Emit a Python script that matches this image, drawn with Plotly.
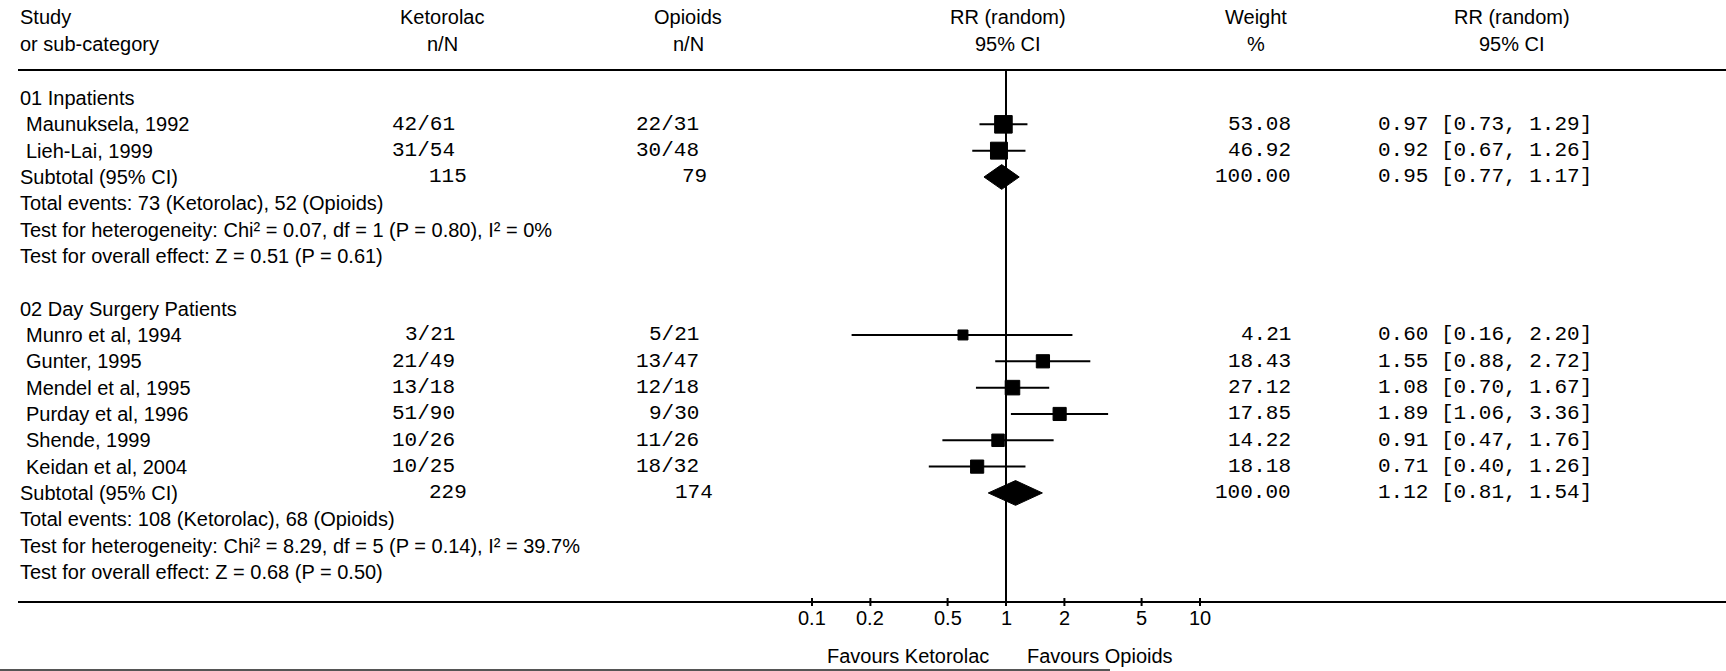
import math
import plotly.graph_objects as go

# ---- data -------------------------------------------------------------
studies = ["Maunuksela, 1992", "Lieh-Lai, 1999", "Munro et al, 1994", "Gunter, 1995",
           "Mendel et al, 1995", "Purday et al, 1996", "Shende, 1999", "Keidan et al, 2004"]
study_group = [0, 0, 1, 1, 1, 1, 1, 1]
ket_events = [42, 31, 3, 21, 13, 51, 10, 10]
ket_total = [61, 54, 21, 49, 18, 90, 26, 25]
opi_events = [22, 30, 5, 13, 12, 9, 11, 18]
opi_total = [31, 48, 21, 47, 18, 30, 26, 32]
weight = [53.08, 46.92, 4.21, 18.43, 27.12, 17.85, 14.22, 18.18]
rr = [0.97, 0.92, 0.60, 1.55, 1.08, 1.89, 0.91, 0.71]
rr_lo = [0.73, 0.67, 0.16, 0.88, 0.70, 1.06, 0.47, 0.40]
rr_hi = [1.29, 1.26, 2.20, 2.72, 1.67, 3.36, 1.76, 1.26]

groups = ["01 Inpatients", "02 Day Surgery Patients"]
sub_ket_total = [115, 229]
sub_opi_total = [79, 174]
sub_weight = [100.00, 100.00]
sub_rr = [0.95, 1.12]
sub_lo = [0.77, 0.81]
sub_hi = [1.17, 1.54]
sub_ket_events = [73, 108]
sub_opi_events = [52, 68]
het_chi2 = ["0.07", "8.29"]
het_df = [1, 5]
het_p = ["0.80", "0.14"]
het_i2 = ["0%", "39.7%"]
eff_z = ["0.51", "0.68"]
eff_p = ["0.61", "0.50"]

tick_vals = [0.1, 0.2, 0.5, 1, 2, 5, 10]
tick_text = ["0.1", "0.2", "0.5", "1", "2", "5", "10"]

# ---- geometry ---------------------------------------------------------
W, H = 1726, 671
ROW0, ROWH = 98.0, 26.33          # pixel centre of first row, row pitch
X1, DEC = 1006.0, 194.0           # pixel of RR = 1, pixels per decade
LINE_X0 = 18.0
AXIS_Y = 602.0


def px(x):
    return x / W


def row_of(ypx):
    return (ypx - ROW0) / ROWH


SANS = "Liberation Sans, Arial, sans-serif"
MONO = "Liberation Mono, Courier New, monospace"
FS = 20
FM = 21

# row assignment
study_row = [0] * len(studies)
group_rows = []
r = 0
for g in range(len(groups)):
    info = {"head": r}
    r += 1
    for i, sg in enumerate(study_group):
        if sg == g:
            study_row[i] = r
            r += 1
    info["sub"] = r
    info["tot"] = r + 1
    info["het"] = r + 2
    info["eff"] = r + 3
    r += 5
    group_rows.append(info)

fig = go.Figure()

# confidence interval lines
for i in range(len(studies)):
    fig.add_trace(go.Scatter(x=[rr_lo[i], rr_hi[i]], y=[study_row[i]] * 2, mode="lines",
                             line=dict(color="black", width=2), hoverinfo="skip",
                             showlegend=False))

# study squares sized by weight
fig.add_trace(go.Scatter(x=rr, y=study_row, mode="markers", opacity=1,
                         marker=dict(symbol="square", color="#000000", opacity=1,
                                     size=[7 + 1.45 * w ** 0.5 for w in weight],
                                     line=dict(width=1, color="#000000")),
                         hoverinfo="skip", showlegend=False))

# pooled diamonds
for g, info in enumerate(group_rows):
    y0 = info["sub"]
    fig.add_trace(go.Scatter(x=[sub_lo[g], sub_rr[g], sub_hi[g], sub_rr[g], sub_lo[g]],
                             y=[y0, y0 - 0.47, y0, y0 + 0.47, y0], mode="lines",
                             fill="toself", fillcolor="black",
                             line=dict(color="black", width=1), hoverinfo="skip",
                             showlegend=False))

ann = []


def txt(x, y, s, anchor="left", font=SANS, size=FS, xref="paper"):
    ann.append(dict(x=px(x) if xref == "paper" else x, y=y, xref=xref, yref="y", text=s,
                    showarrow=False, xanchor=anchor, yanchor="middle",
                    font=dict(family=font, size=size, color="black")))


# column anchors (pixels)
KET_R, KET_SUB, KET_HEAD = 457, 448, 442
OPI_R, OPI_SUB, OPI_HEAD = 701, 694, 688
RR_HEAD = 1008
WT_R, WT_HEAD = 1293, 1256
CI_L, CI_HEAD = 1376, 1512

# header
hy1, hy2 = row_of(17), row_of(44)
txt(LINE_X0, hy1, "Study")
txt(LINE_X0, hy2, "or sub-category")
txt(KET_HEAD, hy1, "Ketorolac", "center")
txt(KET_HEAD, hy2, "n/N", "center")
txt(OPI_HEAD, hy1, "Opioids", "center")
txt(OPI_HEAD, hy2, "n/N", "center")
txt(RR_HEAD, hy1, "RR (random)", "center")
txt(RR_HEAD, hy2, "95% CI", "center")
txt(WT_HEAD, hy1, "Weight", "center")
txt(WT_HEAD, hy2, "%", "center")
txt(CI_HEAD, hy1, "RR (random)", "center")
txt(CI_HEAD, hy2, "95% CI", "center")

# study rows
for i, name in enumerate(studies):
    y = study_row[i]
    txt(24, y, name)
    txt(KET_R, y, f"{ket_events[i]}/{ket_total[i]}", "right", MONO, FM)
    txt(OPI_R, y, f"{opi_events[i]}/{opi_total[i]}", "right", MONO, FM)
    txt(WT_R, y, f"{weight[i]:.2f}", "right", MONO, FM)
    txt(CI_L, y, f"{rr[i]:.2f} [{rr_lo[i]:.2f}, {rr_hi[i]:.2f}]", "left", MONO, FM)

# subgroup rows
for g, info in enumerate(group_rows):
    txt(LINE_X0, info["head"], groups[g])
    txt(LINE_X0, info["sub"], "Subtotal (95% CI)")
    txt(KET_SUB, info["sub"], f"{sub_ket_total[g]}", "center", MONO, FM)
    txt(OPI_SUB, info["sub"], f"{sub_opi_total[g]}", "center", MONO, FM)
    txt(WT_R, info["sub"], f"{sub_weight[g]:.2f}", "right", MONO, FM)
    txt(CI_L, info["sub"], f"{sub_rr[g]:.2f} [{sub_lo[g]:.2f}, {sub_hi[g]:.2f}]", "left", MONO, FM)
    txt(LINE_X0, info["tot"],
        f"Total events: {sub_ket_events[g]} (Ketorolac), {sub_opi_events[g]} (Opioids)")
    txt(LINE_X0, info["het"],
        f"Test for heterogeneity: Chi\u00b2 = {het_chi2[g]}, df = {het_df[g]} (P = {het_p[g]}), I\u00b2 = {het_i2[g]}")
    txt(LINE_X0, info["eff"], f"Test for overall effect: Z = {eff_z[g]} (P = {eff_p[g]})")

# axis tick labels placed on the log scale (annotation x is log10 on log axes)
for v, t in zip(tick_vals, tick_text):
    txt(math.log10(v), row_of(618), t, "center", xref="x")

# direction labels
txt(991, row_of(656), "Favours Ketorolac", "right")
txt(1025, row_of(656), "Favours Opioids", "left")

shapes = [
    # header rule
    dict(type="line", xref="paper", yref="y", x0=px(LINE_X0), x1=1, y0=row_of(70), y1=row_of(70),
         line=dict(color="black", width=2)),
    # axis rule
    dict(type="line", xref="paper", yref="y", x0=px(LINE_X0), x1=1, y0=row_of(AXIS_Y),
         y1=row_of(AXIS_Y), line=dict(color="black", width=2)),
    # line of no effect
    dict(type="line", xref="x", yref="y", x0=1, x1=1, y0=row_of(70), y1=row_of(AXIS_Y + 3),
         line=dict(color="black", width=2)),
    # bottom rule
    dict(type="line", xref="paper", yref="paper", x0=0, x1=px(1110), y0=1 - 670 / H, y1=1 - 670 / H,
         line=dict(color="#555555", width=2)),
]
# tick marks crossing the axis rule
for v in tick_vals:
    shapes.append(dict(type="line", xref="x", yref="y", x0=v, x1=v,
                       y0=row_of(AXIS_Y - 4), y1=row_of(AXIS_Y + 4),
                       line=dict(color="black", width=2)))

left = -(X1 - LINE_X0) / DEC
right = (W - X1) / DEC

fig.update_layout(
    width=W, height=H, margin=dict(l=0, r=0, t=0, b=0),
    paper_bgcolor="white", plot_bgcolor="white",
    annotations=ann, shapes=shapes, showlegend=False,
    xaxis=dict(type="log", domain=[LINE_X0 / W, 1], range=[left, right],
               visible=False, fixedrange=True),
    yaxis=dict(range=[row_of(H), row_of(0)], domain=[0, 1], visible=False, fixedrange=True),
)

fig.write_html("out.html")
